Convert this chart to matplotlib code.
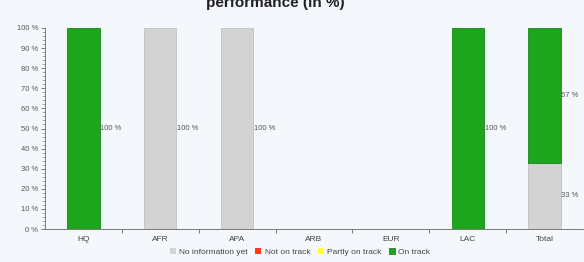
import matplotlib
matplotlib.use("Agg")
import matplotlib.pyplot as plt
from matplotlib.ticker import MultipleLocator, FixedLocator
import numpy as np

categories = ["HQ", "AFR", "APA", "ARB", "EUR", "LAC", "Total"]
no_info = [0, 100, 100, 0, 0, 0, 33]
not_on_track = [0, 0, 0, 0, 0, 0, 0]
partly = [0, 0, 0, 0, 0, 0, 0]
on_track = [100, 0, 0, 0, 0, 100, 67]

series = [
    ("No information yet", no_info, "#d3d3d3", "#c2c2c2"),
    ("Not on track", not_on_track, "#ff3b1a", "#d02a10"),
    ("Partly on track", partly, "#ffff33", "#d8d820"),
    ("On track", on_track, "#1ea51e", "#168a16"),
]

bg = "#f4f7fb"
plt.rcParams['font.family'] = ['Liberation Sans', 'DejaVu Sans']

fig = plt.figure(figsize=(5.84, 2.62), dpi=100, facecolor=bg)
ax = fig.add_axes([45 / 584, 33 / 262, 538 / 584, 201 / 262], facecolor=bg)

x = np.arange(len(categories))
width = 0.42
bottom = np.zeros(len(categories))
for name, vals, col, edge in series:
    vals = np.array(vals, dtype=float)
    lws = [0.6 if v > 0 else 0 for v in vals]
    ax.bar(x, vals, width, bottom=bottom, color=col, edgecolor=edge, linewidth=lws, label=name)
    for i, v in enumerate(vals):
        if v > 0:
            ax.text(x[i] + width / 2 + 0.01, bottom[i] + v / 2, "%d %%" % v,
                    ha="left", va="center", fontsize=5.5, color="#555555")
    bottom += vals

ax.set_xlim(-0.5, len(categories) - 0.5)
ax.set_ylim(0, 100)
ax.set_xticks(x)
ax.set_xticklabels(categories, fontsize=6, color="#444444")
ax.xaxis.set_minor_locator(FixedLocator(x[:-1] + 0.5))
ax.tick_params(axis="x", which="major", length=0, pad=5)
ax.tick_params(axis="x", which="minor", length=3, color="#666666", width=0.6)
ax.yaxis.set_major_locator(MultipleLocator(10))
ax.yaxis.set_minor_locator(MultipleLocator(2))
ax.set_yticks(np.arange(0, 101, 10))
ax.set_yticklabels(["%d %%" % t for t in range(0, 101, 10)], fontsize=5.5, color="#555555")
ax.tick_params(axis="y", which="major", length=3, color="#666666", width=0.6, pad=2)
ax.tick_params(axis="y", which="minor", length=2, color="#888888", width=0.5)

for s in ["top", "right"]:
    ax.spines[s].set_visible(False)
for s in ["left", "bottom"]:
    ax.spines[s].set_color("#777777")
    ax.spines[s].set_linewidth(0.7)

# title is cut off at the top edge in the source image
fig.text(275 / 584, 1 - 7 / 262, "performance (in %)", ha="center", va="baseline",
         fontsize=11, fontweight="bold", color="#222222")

fig.legend(loc="lower center", bbox_to_anchor=(300 / 584, -0.005), ncol=4, frameon=False,
           fontsize=6, handlelength=0.7, handleheight=0.7, handletextpad=0.4,
           columnspacing=0.9, labelcolor="#444444")

fig.savefig("out.png", dpi=100, facecolor=bg)
